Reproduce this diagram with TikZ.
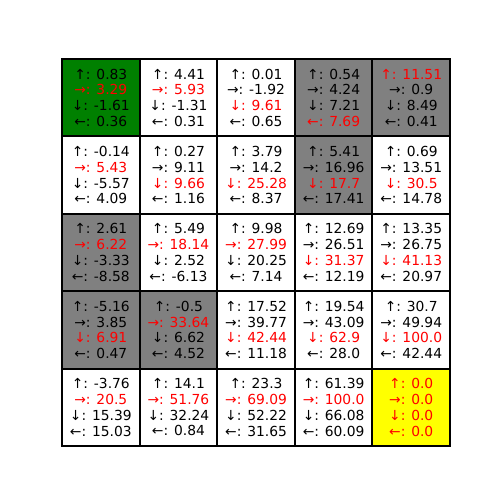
\documentclass[tikz,border=0pt]{standalone}
\usepackage{fontspec}
\setmainfont{DejaVu Sans}
\usepackage{xcolor}
\usetikzlibrary{positioning}
\definecolor{goalyellow}{RGB}{255,255,0}
\definecolor{startgreen}{RGB}{0,128,0}
\definecolor{wallgray}{RGB}{128,128,128}
\newcommand{\hi}[1]{\textcolor{red}{#1}}

\begin{document}
\begin{tikzpicture}[
  qcell/.style={draw=black,line width=1.5pt,minimum size=1.97cm,inner sep=0pt,
    align=center,font=\fontsize{10}{11.4}\selectfont,fill=white},
  startcell/.style={qcell,fill=startgreen},
  wallcell/.style={qcell,fill=wallgray},
  goalcell/.style={qcell,fill=goalyellow},
]
\useasboundingbox (0,0) rectangle (12.7,12.7);

%% ===== Q 値の表：5x5 マス（左上が (0,0)） =====
\begin{scope}[shift={(2.561,10.218)},x=1.971cm,y=-1.966cm]
% row 0
\node[startcell] (c00) at (0,0) {↑: 0.83\\\hi{→: 3.29}\\↓: -1.61\\←: 0.36};
\node[qcell]     (c01) at (1,0) {↑: 4.41\\\hi{→: 5.93}\\↓: -1.31\\←: 0.31};
\node[qcell]     (c02) at (2,0) {↑: 0.01\\→: -1.92\\\hi{↓: 9.61}\\←: 0.65};
\node[wallcell]  (c03) at (3,0) {↑: 0.54\\→: 4.24\\↓: 7.21\\\hi{←: 7.69}};
\node[wallcell]  (c04) at (4,0) {\hi{↑: 11.51}\\→: 0.9\\↓: 8.49\\←: 0.41};
% row 1
\node[qcell]     (c10) at (0,1) {↑: -0.14\\\hi{→: 5.43}\\↓: -5.57\\←: 4.09};
\node[qcell]     (c11) at (1,1) {↑: 0.27\\→: 9.11\\\hi{↓: 9.66}\\←: 1.16};
\node[qcell]     (c12) at (2,1) {↑: 3.79\\→: 14.2\\\hi{↓: 25.28}\\←: 8.37};
\node[wallcell]  (c13) at (3,1) {↑: 5.41\\→: 16.96\\\hi{↓: 17.7}\\←: 17.41};
\node[qcell]     (c14) at (4,1) {↑: 0.69\\→: 13.51\\\hi{↓: 30.5}\\←: 14.78};
% row 2
\node[wallcell]  (c20) at (0,2) {↑: 2.61\\\hi{→: 6.22}\\↓: -3.33\\←: -8.58};
\node[qcell]     (c21) at (1,2) {↑: 5.49\\\hi{→: 18.14}\\↓: 2.52\\←: -6.13};
\node[qcell]     (c22) at (2,2) {↑: 9.98\\\hi{→: 27.99}\\↓: 20.25\\←: 7.14};
\node[qcell]     (c23) at (3,2) {↑: 12.69\\→: 26.51\\\hi{↓: 31.37}\\←: 12.19};
\node[qcell]     (c24) at (4,2) {↑: 13.35\\→: 26.75\\\hi{↓: 41.13}\\←: 20.97};
% row 3
\node[wallcell]  (c30) at (0,3) {↑: -5.16\\→: 3.85\\\hi{↓: 6.91}\\←: 0.47};
\node[wallcell]  (c31) at (1,3) {↑: -0.5\\\hi{→: 33.64}\\↓: 6.62\\←: 4.52};
\node[qcell]     (c32) at (2,3) {↑: 17.52\\→: 39.77\\\hi{↓: 42.44}\\←: 11.18};
\node[qcell]     (c33) at (3,3) {↑: 19.54\\→: 43.09\\\hi{↓: 62.9}\\←: 28.0};
\node[qcell]     (c34) at (4,3) {↑: 30.7\\→: 49.94\\\hi{↓: 100.0}\\←: 42.44};
% row 4
\node[qcell]     (c40) at (0,4) {↑: -3.76\\\hi{→: 20.5}\\↓: 15.39\\←: 15.03};
\node[qcell]     (c41) at (1,4) {↑: 14.1\\\hi{→: 51.76}\\↓: 32.24\\←: 0.84};
\node[qcell]     (c42) at (2,4) {↑: 23.3\\\hi{→: 69.09}\\↓: 52.22\\←: 31.65};
\node[qcell]     (c43) at (3,4) {↑: 61.39\\\hi{→: 100.0}\\↓: 66.08\\←: 60.09};
\node[goalcell]  (c44) at (4,4) {\hi{↑: 0.0}\\\hi{→: 0.0}\\\hi{↓: 0.0}\\\hi{←: 0.0}};
\end{scope}
\end{tikzpicture}
\end{document}
